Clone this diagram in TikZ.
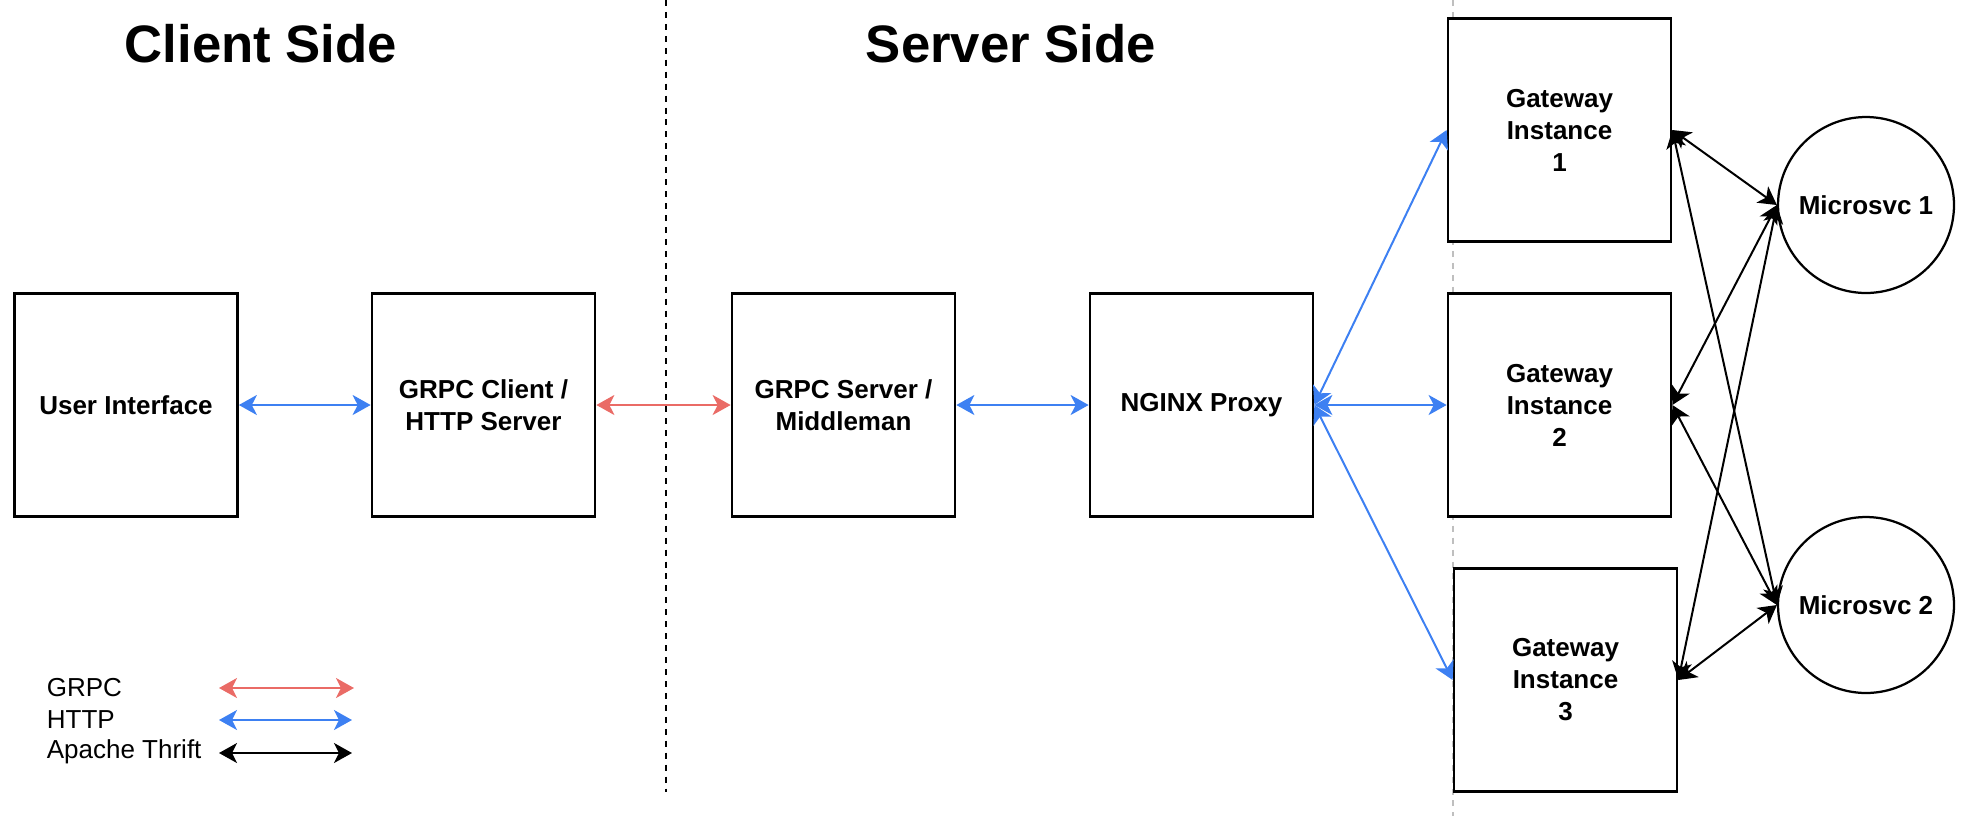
\documentclass[tikz,border=0pt]{standalone}
\usepackage{fontspec}
\setmainfont{Liberation Sans}
\usetikzlibrary{arrows.meta}
\definecolor{grpcred}{HTML}{EA6B66}
\definecolor{httpblue}{HTML}{3D80F2}

\begin{document}
\begin{tikzpicture}[
    x=0.02cm, y=-0.02cm,
    line width=0.04cm,
    %
    box/.style={draw=black, rectangle, fill=white, line width=0.055cm, minimum width=4.46cm,
                minimum height=4.46cm, align=center, font=\fontsize{14.8}{18.2}\selectfont\bfseries},
    svc/.style={draw=black, circle, fill=white, line width=0.045cm, minimum size=3.52cm,
                font=\fontsize{14.8}{18.2}\selectfont\bfseries},
    title/.style={font=\fontsize{30}{36}\selectfont\bfseries},
    legend/.style={anchor=west, font=\fontsize{14.8}{18}\selectfont},
    %
    tip/.tip={Stealth[length=0.36cm, width=0.4cm, inset=0.1cm]},
    grpc/.style={draw=grpcred, tip-tip},
    http/.style={draw=httpblue, tip-tip},
    thrift/.style={draw=black, tip-tip}
    ]

    \useasboundingbox (0,0) rectangle (1964,816);
    %
    \draw[line width=0.025cm, dash pattern=on 3.4pt off 3.4pt] (666,0) -- (666,792);
    \draw[line width=0.025cm, draw=black!25, dash pattern=on 3.4pt off 3.4pt] (1453,0) -- (1453,816);
    %
    \node[title] (client) at (261,44)  {Client Side};
    \node[title] (server) at (1011,44) {Server Side};
    %
    \node[box] (ui)         at (126,405)    {User Interface};
    \node[box] (grpcclient) at (483.5,405)  {GRPC Client /\\HTTP Server};
    \node[box] (grpcserver) at (843.5,405)  {GRPC Server /\\Middleman};
    \node[box] (nginx)      at (1201.5,405) {NGINX Proxy};
    \node[box] (gw1)        at (1559.5,130) {Gateway\\Instance\\1};
    \node[box] (gw2)        at (1559.5,405) {Gateway\\Instance\\2};
    \node[box] (gw3)        at (1565.5,680) {Gateway\\Instance\\3};
    \node[svc] (ms1)        at (1866,205)   {Microsvc 1};
    \node[svc] (ms2)        at (1866,605)   {Microsvc 2};
    %
    \draw[http] (ui) -- (grpcclient);
    \draw[grpc] (grpcclient) -- (grpcserver);
    \draw[http] (grpcserver) -- (nginx);
    \draw[http] (nginx.east) -- (gw1.west);
    \draw[http] (nginx.east) -- (gw2.west);
    \draw[http] (nginx.east) -- (gw3.west);
    %
    \draw[thrift] (gw1.east) -- (ms1.west);
    \draw[thrift] (gw1.east) -- (ms2.west);
    \draw[thrift] (gw2.east) -- (ms1.west);
    \draw[thrift] (gw2.east) -- (ms2.west);
    \draw[thrift] (gw3.east) -- (ms1.west);
    \draw[thrift] (gw3.east) -- (ms2.west);
    %
    % legend
    \node[legend] (lgrpc)   at (40,688) {GRPC};
    \node[legend] (lhttp)   at (40,720) {HTTP};
    \node[legend] (lthrift) at (40,752) {Apache Thrift};
    \coordinate (lgrpca) at (219,688);   \coordinate (lgrpcb) at (354,688);
    \coordinate (lhttpa) at (219,720);   \coordinate (lhttpb) at (352,720);
    \coordinate (lthrifta) at (219,753); \coordinate (lthriftb) at (352,753);
    \draw[grpc] (lgrpca) -- (lgrpcb);
    \draw[http] (lhttpa) -- (lhttpb);
    \draw[thrift] (lthrifta) -- (lthriftb);

\end{tikzpicture}
\end{document}
